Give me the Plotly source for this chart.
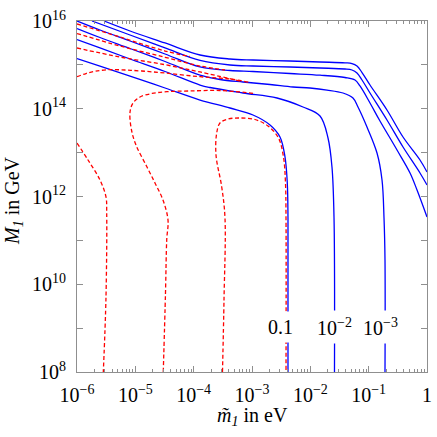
import numpy as np
import plotly.graph_objects as go

# curves, stored as log10(m~1 / eV) and log10(M1 / GeV)
# blue solid: efficiency contours
blue_a_logm = [-5.537, -5.091, -4.491, -3.891, -3.377, -2.983, -2.349, -1.834, -1.406, -1.286, -1.200, -1.114, -0.977, -0.686, -0.411, -0.120, 0.0]
blue_a_logM = [16.0, 15.772, 15.499, 15.225, 15.134, 15.111, 15.088, 15.066, 15.047, 15.031, 14.974, 14.826, 14.541, 13.972, 13.356, 12.832, 12.558]

blue_b_logm = [-5.743, -5.091, -4.491, -3.891, -3.377, -2.983, -2.349, -1.834, -1.406, -1.286, -1.200, -1.114, -0.977, -0.686, -0.411, -0.120, 0.0]
blue_b_logM = [16.0, 15.681, 15.385, 15.100, 14.997, 14.974, 14.952, 14.929, 14.906, 14.883, 14.815, 14.655, 14.359, 13.744, 13.128, 12.536, 12.262]

blue_c_logm = [-6.0, -5.606, -5.091, -4.491, -3.891, -3.377, -2.983, -2.349, -1.834, -1.406, -1.234, -1.149, -0.977, -0.806, -0.514, -0.291, -0.171, 0.0]
blue_c_logM = [16.0, 15.795, 15.544, 15.248, 14.952, 14.872, 14.849, 14.803, 14.765, 14.712, 14.655, 14.519, 14.131, 13.721, 13.060, 12.536, 12.148, 11.533]

blue_d_logm = [-6.0, -5.606, -5.091, -4.491, -3.891, -3.549, -3.154, -2.691, -2.297, -2.006, -1.714, -1.440, -1.269, -1.183, -1.029, -0.857, -0.771, -0.737, -0.720, -0.720]
blue_d_logM = [15.829, 15.624, 15.373, 15.077, 14.769, 14.667, 14.610, 14.553, 14.496, 14.473, 14.427, 14.359, 14.245, 14.040, 13.584, 12.991, 12.376, 11.510, 10.553, 8.0]

blue_e_logm = [-6.0, -5.606, -5.091, -4.491, -3.891, -3.720, -3.154, -2.571, -2.126, -1.834, -1.697, -1.629, -1.594, -1.586]
blue_e_logM = [15.578, 15.385, 15.134, 14.849, 14.541, 14.484, 14.359, 14.245, 14.040, 13.835, 13.333, 12.672, 11.510, 8.0]

blue_f_logm = [-6.0, -5.606, -5.091, -4.491, -3.891, -3.377, -2.983, -2.691, -2.520, -2.434, -2.395, -2.383, -2.383]
blue_f_logM = [15.145, 14.974, 14.746, 14.473, 14.199, 14.017, 13.858, 13.630, 13.356, 12.900, 12.308, 11.510, 8.0]

# red dashed: asymmetry contours
red_1_logm = [-6.0, -5.263, -4.491, -4.063]
red_1_logM = [15.932, 15.635, 15.316, 15.191]

red_2_logm = [-6.0, -5.263, -4.491, -3.891, -3.463]
red_2_logM = [15.715, 15.430, 15.173, 14.974, 14.883]

red_3_logm = [-6.0, -5.263, -4.491, -3.891, -3.206]
red_3_logM = [15.385, 15.179, 15.004, 14.838, 14.632]

red_4_logm = [-6.0, -5.846, -5.691, -5.469, -5.177, -4.891, -4.491, -3.891, -3.377, -3.034]
red_4_logM = [14.730, 14.803, 14.854, 14.890, 14.883, 14.860, 14.815, 14.730, 14.678, 14.598]

red_5_logm = [-6.0, -5.811, -5.606, -5.503, -5.491, -5.503, -5.549]
red_5_logM = [13.219, 12.832, 12.376, 11.989, 11.624, 9.709, 8.0]

red_6_logm = [-4.521, -4.483, -4.462, -4.440, -4.526, -4.663, -4.800, -4.989, -5.066, -5.091, -5.040, -4.920, -4.714, -4.457, -4.063, -3.549, -2.983]
red_6_logM = [8.0, 9.801, 11.009, 11.464, 11.920, 12.308, 12.672, 13.174, 13.516, 13.926, 14.131, 14.268, 14.348, 14.389, 14.405, 14.416, 14.352]

red_7_logm = [-3.506, -3.480, -3.463, -3.519, -3.617, -3.605, -3.549, -3.411, -3.206, -2.949, -2.726, -2.546, -2.460, -2.426, -2.417, -2.417]
red_7_logM = [8.0, 9.641, 11.510, 12.217, 12.946, 13.447, 13.675, 13.766, 13.789, 13.755, 13.608, 13.333, 12.900, 12.308, 11.510, 8.0]

label_text = ['0.1', '10<sup>\u22122</sup>', '10<sup>\u22123</sup>']
label_logm = [-2.511, -1.594, -0.797]
label_logM = [9.026, 9.026, 9.026]

x_tickvals = [1e-6, 1e-5, 1e-4, 1e-3, 1e-2, 1e-1, 1]
x_ticktext = ['10<sup>\u22126</sup>', '10<sup>\u22125</sup>', '10<sup>\u22124</sup>', '10<sup>\u22123</sup>',
              '10<sup>\u22122</sup>', '10<sup>\u22121</sup>', '1']
y_tickvals = [1e8, 1e10, 1e12, 1e14, 1e16]
y_ticktext = ['10<sup>8</sup>', '10<sup>10</sup>', '10<sup>12</sup>', '10<sup>14</sup>', '10<sup>16</sup>']

x_title = '<i>m\u0303<sub>1</sub></i> in eV'
y_title = '<i>M<sub>1</sub></i> in GeV'

blue_curves = [(blue_a_logm, blue_a_logM), (blue_b_logm, blue_b_logM), (blue_c_logm, blue_c_logM),
               (blue_d_logm, blue_d_logM), (blue_e_logm, blue_e_logM), (blue_f_logm, blue_f_logM)]
red_curves = [(red_1_logm, red_1_logM), (red_2_logm, red_2_logM), (red_3_logm, red_3_logM),
              (red_4_logm, red_4_logM), (red_5_logm, red_5_logM), (red_6_logm, red_6_logM),
              (red_7_logm, red_7_logM)]

font_family = 'Liberation Serif, Times New Roman, serif'
frame_color = '#8f8f8f'
text_font = dict(family=font_family, size=20, color='black')

fig = go.Figure()

for lm, lM in blue_curves:
    fig.add_trace(go.Scatter(
        x=10 ** np.array(lm), y=10 ** np.array(lM), mode='lines',
        line=dict(color='#0000ff', width=1.3), line_shape='spline', hoverinfo='skip'
    ))

for lm, lM in red_curves:
    fig.add_trace(go.Scatter(
        x=10 ** np.array(lm), y=10 ** np.array(lM), mode='lines',
        line=dict(color='#ff0000', width=1.3, dash='4px,2.5px'), line_shape='spline', hoverinfo='skip'
    ))

# contour labels, white box breaks the lines underneath
for txt, lm, lM in zip(label_text, label_logm, label_logM):
    fig.add_annotation(
        x=lm, y=lM, xref='x', yref='y', text=txt, showarrow=False,
        font=text_font, bgcolor='white', borderpad=4
    )

# axis titles placed by hand
fig.add_annotation(x=0.5, y=-0.127, xref='paper', yref='paper', text=x_title,
                   showarrow=False, font=text_font, xanchor='center', yanchor='middle')
fig.add_annotation(x=-0.183, y=0.49, xref='paper', yref='paper', text=y_title, textangle=-90,
                   showarrow=False, font=text_font, xanchor='center', yanchor='middle')

x_minor = [k * 10.0 ** e for e in range(-6, 0) for k in range(2, 10)]
y_minor = [1e9, 1e11, 1e13, 1e15]

fig.update_xaxes(
    type='log', range=[-6, 0], tickvals=x_tickvals, ticktext=x_ticktext, automargin=False,
    ticklabeloverflow='allow',
    showline=True, linecolor=frame_color, linewidth=1, mirror='allticks',
    ticks='inside', ticklen=6, tickcolor=frame_color, showgrid=False, zeroline=False,
    minor=dict(tickvals=x_minor, ticks='inside', ticklen=3, tickcolor=frame_color, showgrid=False),
    tickfont=text_font, ticklabelstandoff=5
)
fig.update_yaxes(
    type='log', range=[8, 16], tickvals=y_tickvals, ticktext=y_ticktext, automargin=False,
    ticklabeloverflow='allow',
    showline=True, linecolor=frame_color, linewidth=1, mirror='allticks',
    ticks='inside', ticklen=6, tickcolor=frame_color, showgrid=False, zeroline=False,
    minor=dict(tickvals=y_minor, ticks='inside', ticklen=6, tickcolor=frame_color, showgrid=False),
    tickfont=text_font, ticklabelstandoff=6
)

fig.update_layout(
    width=437, height=437,
    margin=dict(l=77, r=10, t=21, b=65),
    showlegend=False,
    plot_bgcolor='white',
    paper_bgcolor='white'
)

# drop the default page margin so the figure sits at the window's corner
fig.write_html('out.html', config={'displayModeBar': False},
               post_script="document.body.style.margin='0px';")
